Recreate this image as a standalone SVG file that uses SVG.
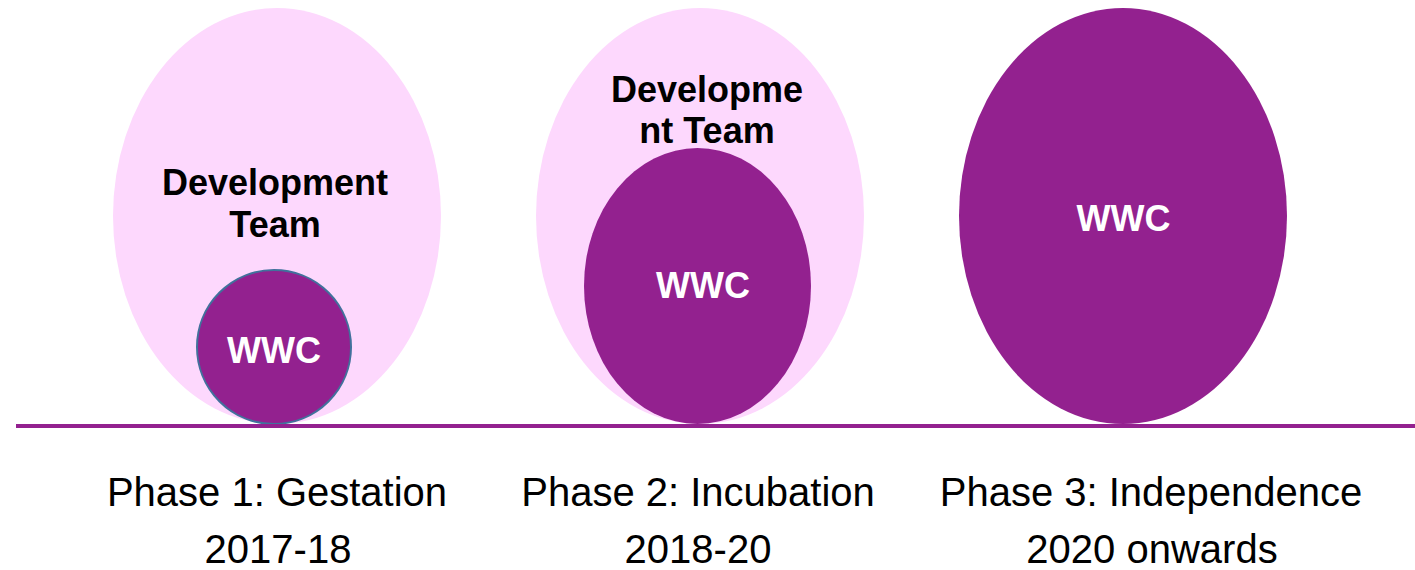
<svg xmlns="http://www.w3.org/2000/svg" width="1415" height="570" viewBox="0 0 1415 570">
<style>
.pink{fill:#FDD8FD}
.purple{fill:#93218F}
.lbl{font-family:"Liberation Sans",Arial,sans-serif;font-weight:bold;font-size:36px;text-anchor:middle}
.dev{fill:#000}
.wwc{fill:#fff}
.phase{font-family:"Liberation Sans",Arial,sans-serif;font-size:40px;text-anchor:middle;fill:#000}
</style>
<rect width="1415" height="570" fill="#fff"/>
<g id="phase1">
<ellipse class="pink" cx="277" cy="216" rx="164" ry="208"/>
<text class="lbl dev" x="275" y="195">Development</text>
<text class="lbl dev" x="275" y="237">Team</text>
<circle class="purple" cx="274" cy="347" r="77" stroke="#41719C" stroke-width="2"/>
<text class="lbl wwc" x="274" y="363">WWC</text>
</g>
<g id="phase2">
<ellipse class="pink" cx="700" cy="216" rx="164" ry="208"/>
<text class="lbl dev" x="707" y="102">Developme</text>
<text class="lbl dev" x="707" y="143">nt Team</text>
<ellipse class="purple" cx="697.5" cy="286" rx="113.5" ry="138"/>
<text class="lbl wwc" x="703" y="298">WWC</text>
</g>
<g id="phase3">
<ellipse class="purple" cx="1123" cy="216" rx="164" ry="208"/>
<text class="lbl wwc" x="1123.5" y="231">WWC</text>
</g>
<g id="connectors">
<line x1="16" y1="426" x2="1415" y2="426" stroke="#93218F" stroke-width="4"/>
</g>
<g id="labels">
<text class="phase" x="277" y="506">Phase 1: Gestation</text>
<text class="phase" x="278" y="563">2017-18</text>
<text class="phase" x="698" y="506">Phase 2: Incubation</text>
<text class="phase" x="698" y="563">2018-20</text>
<text class="phase" x="1151" y="506">Phase 3: Independence</text>
<text class="phase" x="1152" y="563">2020 onwards</text>
</g>
</svg>
